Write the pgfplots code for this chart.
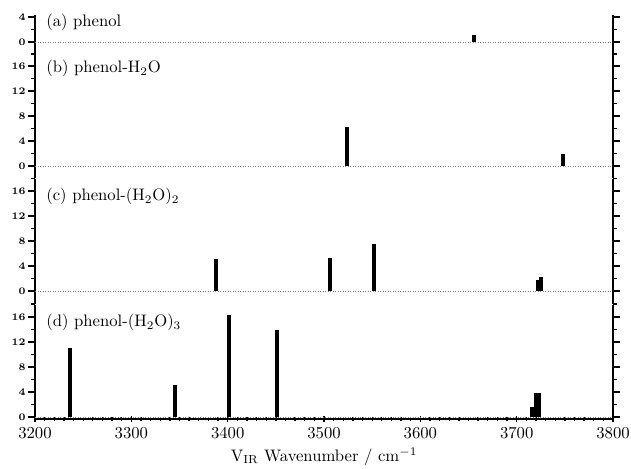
\documentclass[border=0pt]{standalone}
\usepackage{pgfplots}
\pgfplotsset{compat=1.18}
% 1 px of the reference = 0.6pt
\pgfplotsset{panel/.style={
  x=0.578pt, y=3.75pt, xmin=3200, xmax=3800,
  anchor=south west, axis y line=box,
  axis line style={-, line width=0.9pt},
  tick align=outside, yticklabel pos=left,
  major tick length=4pt, minor tick length=2.2pt,
  every tick/.style={black, line width=0.8pt},
  yticklabel style={font=\fontsize{6.5}{7}\selectfont\boldmath, inner sep=1.5pt},
  ytick={0,4,8,12,16}, minor ytick={-2,2,6,10,14,18},
}, upper/.style={panel, axis x line=none, xtick=\empty}}
\tikzset{zero/.style={gray, densely dotted, line width=0.5pt},
  bar/.style={ycomb, black, line width=2.4pt, mark=none}}
\begin{document}
\begin{tikzpicture}
\useasboundingbox (0,0) rectangle (631*0.6pt,-469*0.6pt);

% (a) phenol
\begin{axis}[upper, at={(35*0.6pt,-54.5*0.6pt)}, ymin=-2, ymax=4.3,
  ytick={0,4}, minor ytick={-2,2}]
\addplot[zero] coordinates {(3200,0) (3800,0)};
\addplot[bar] coordinates {(3656,1.1)};
\end{axis}

% (b) phenol-H2O
\begin{axis}[upper, at={(35*0.6pt,-178.5*0.6pt)}, ymin=-2, ymax=18]
\addplot[zero] coordinates {(3200,0) (3800,0)};
\addplot[bar] coordinates {(3524,6.3) (3748,1.9)};
\end{axis}

% (c) phenol-(H2O)2
\begin{axis}[upper, at={(35*0.6pt,-303.5*0.6pt)}, ymin=-2, ymax=18]
\addplot[zero] coordinates {(3200,0) (3800,0)};
\addplot[bar] coordinates {(3388,5.1) (3506,5.3) (3552,7.5) (3722,1.8) (3725,2.2)};
\end{axis}

% (d) phenol-(H2O)3
\begin{axis}[panel, at={(35*0.6pt,-418.9*0.6pt)}, ymin=-0.3, ymax=18,
  axis x line=bottom, x axis line style={-},
  every outer x axis line/.append style={-},
  xtick={3200,3300,...,3800}, minor x tick num=9,
  minor ytick={2,6,10,14,18},
  xticklabel style={/pgf/number format/1000 sep={}},
  xlabel={$\mathrm{V}_{\mathrm{IR}}$ Wavenumber / cm$^{-1}$},
  xlabel style={at={(axis description cs:0.5,0)}, anchor=north, inner sep=0pt, yshift=-17pt}]
\addplot[zero] coordinates {(3200,0) (3800,0)};
\addplot[bar] coordinates {(3236,11.1) (3345,5.1) (3401,16.3) (3451,14.0) (3716,1.6) (3720,3.8) (3723,3.9)};
\end{axis}

\node[anchor=base west, inner sep=0pt] at (46*0.6pt,-26.7*0.6pt) {(a) phenol};
\node[anchor=base west, inner sep=0pt] at (46*0.6pt,-72.7*0.6pt) {(b) phenol-H$_2$O};
\node[anchor=base west, inner sep=0pt] at (46*0.6pt,-200.7*0.6pt) {(c) phenol-(H$_2$O)$_2$};
\node[anchor=base west, inner sep=0pt] at (46*0.6pt,-326.7*0.6pt) {(d) phenol-(H$_2$O)$_3$};
\end{tikzpicture}
\end{document}
